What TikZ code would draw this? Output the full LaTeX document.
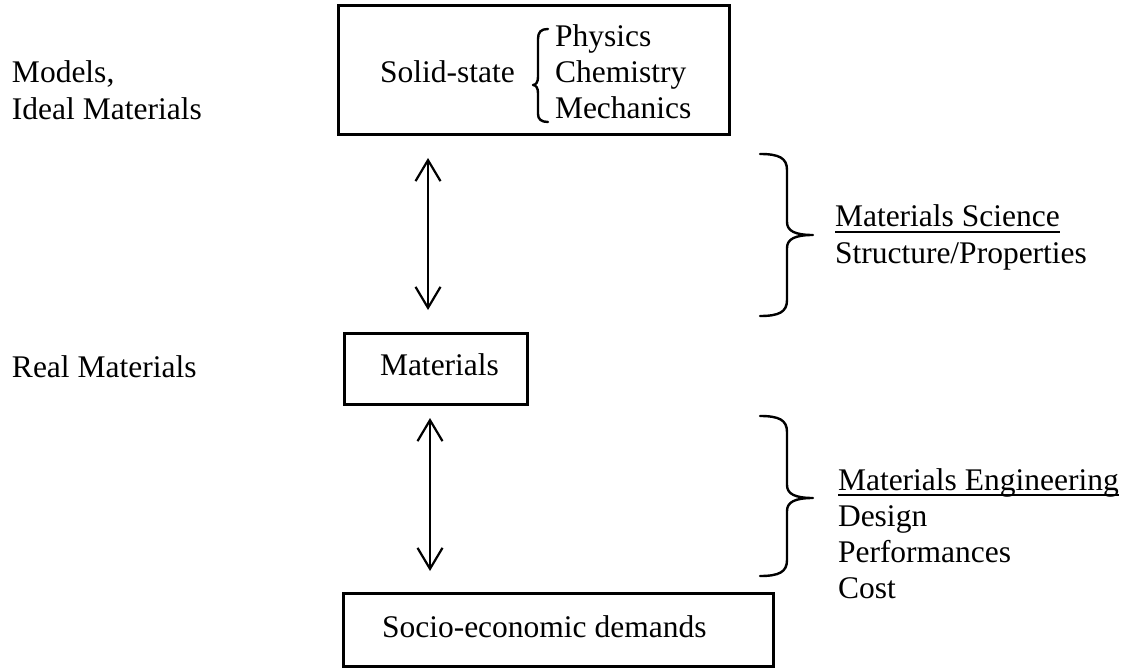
\documentclass[tikz,border=0pt]{standalone}
\usepackage{fontspec}
\setmainfont{Liberation Serif}
\usetikzlibrary{arrows.meta}
\begin{document}
\begin{tikzpicture}[x=1pt,y=-1pt,
  box/.style={draw=black,line width=3pt,inner sep=0pt,outer sep=0pt},
  txt/.style={anchor=base west,inner sep=0pt,outer sep=0pt,font=\fontsize{31.5}{36}\selectfont},
  arr/.style={line width=2.2pt,{Straight Barb[length=21pt,width=25pt,line width=2.2pt]}-{Straight Barb[length=21pt,width=25pt,line width=2.2pt]}},
  brace/.style={line width=2.4pt,line cap=round,line join=round},
  uline/.style={line width=2pt}]
\useasboundingbox (0,0) rectangle (1126,668);
% boxes
\node[box,minimum width=391pt,minimum height=129pt] (topbox) at (533.5,70.5) {};
\node[box,minimum width=183pt,minimum height=71pt] (matbox) at (435.5,368.5) {};
\node[box,minimum width=430pt,minimum height=73pt] (socbox) at (558,629.5) {};
% box texts
\node[txt] (solid) at (380,83) {Solid-state};
\node[txt] (phys) at (555,47) {Physics};
\node[txt] (chem) at (555,83) {Chemistry};
\node[txt] (mech) at (555,119) {Mechanics};
\node[txt] (mat) at (380,375) {Materials};
\node[txt] (soc) at (382,637) {Socio-economic demands};
% left labels
\node[txt] (models) at (12,83) {Models,};
\node[txt] (ideal) at (12,120) {Ideal Materials};
\node[txt] (real) at (12,377) {Real Materials};
% right labels
\node[txt] (ms) at (835,227) {Materials Science};
\node[txt] (sp) at (835,263) {Structure/Properties};
\node[txt] (me) at (838,490) {Materials Engineering};
\node[txt] (des) at (838,526) {Design};
\node[txt] (perf) at (838,562) {Performances};
\node[txt] (cost) at (838,598) {Cost};
\draw[uline] ([yshift=-5pt]ms.base west) -- ([yshift=-5pt]ms.base east);
\draw[uline] ([yshift=-5pt]me.base west) -- ([yshift=-5pt]me.base east);
% arrows
\coordinate (a1t) at (428,158);
\coordinate (a1b) at (428,310);
\coordinate (a2t) at (430,418);
\coordinate (a2b) at (430,571);
\draw[arr] (a1t) -- (a1b);
\draw[arr] (a2t) -- (a2b);
% small brace in top box
\draw[brace] (548,29) .. controls (541,29) and (538,32) .. (538,39) -- (538,77)
  .. controls (538,82) and (536,85) .. (533,85)
  .. controls (536,85) and (538,88) .. (538,93) -- (538,114)
  .. controls (538,119) and (541,122) .. (548,122);
% right braces
\draw[brace] (760,154) .. controls (779,154) and (787,158) .. (787,170) -- (787,222)
  .. controls (787,231) and (795,235) .. (813,235)
  .. controls (795,235) and (787,239) .. (787,248) -- (787,300)
  .. controls (787,312) and (779,316) .. (760,316);
\draw[brace] (760,416) .. controls (779,416) and (787,420) .. (787,432) -- (787,485)
  .. controls (787,494) and (795,498) .. (813,498)
  .. controls (795,498) and (787,502) .. (787,511) -- (787,560)
  .. controls (787,572) and (779,576) .. (760,576);
\end{tikzpicture}
\end{document}
